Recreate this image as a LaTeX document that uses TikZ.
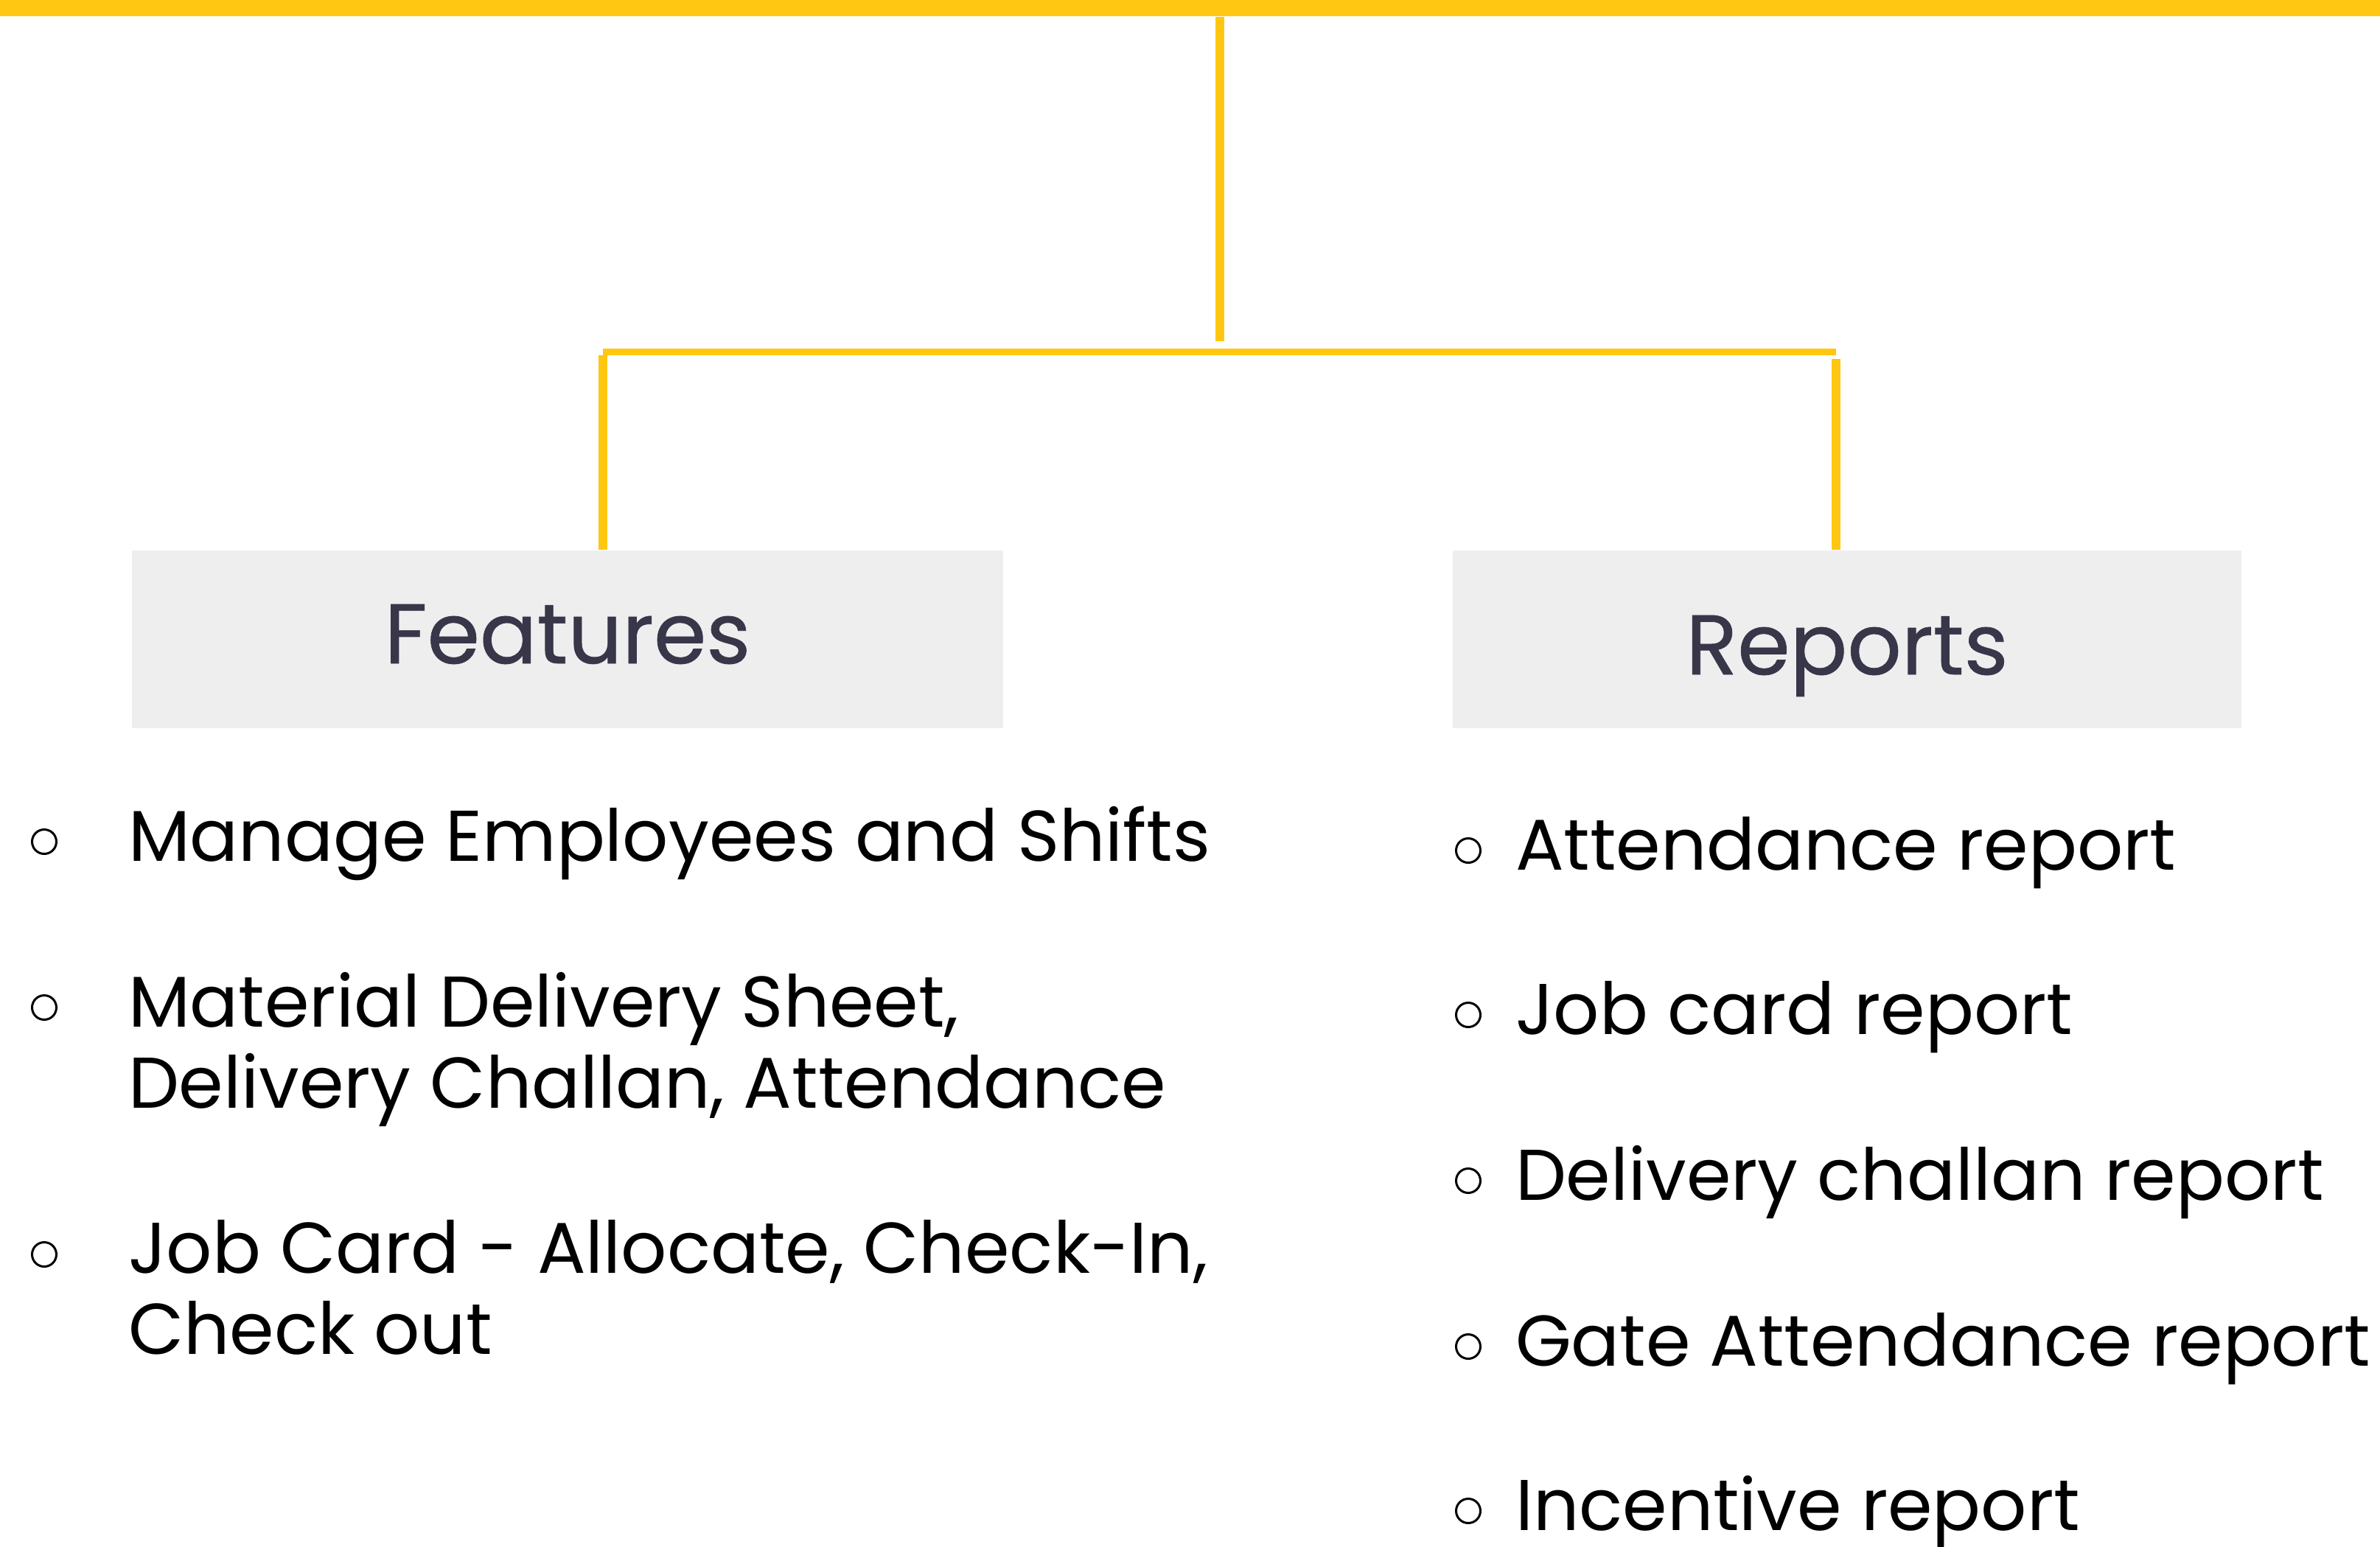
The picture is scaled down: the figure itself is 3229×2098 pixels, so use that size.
\documentclass[tikz,border=0pt]{standalone}
\usepackage{fontspec}
\setmainfont{Poppins}
\newfontfamily\headfont{Poppins}[FakeBold=0.6]
\usetikzlibrary{positioning}
\definecolor{barYellow}{HTML}{FFC711}
\definecolor{boxGray}{HTML}{EEEEEE}
\definecolor{headInk}{HTML}{383649}
\tikzset{
  topbar/.style={fill=barYellow, inner sep=0pt, minimum width=645.8pt, minimum height=4.4pt},
  link/.style={barYellow, line width=2.4pt},
  crossbar/.style={barYellow, line width=1.8pt},
  headbox/.style={fill=boxGray, inner sep=0pt, text=headInk, minimum height=48.2pt, text depth=0pt, font=\headfont\fontsize{23}{27}\selectfont},
  item/.style={anchor=base west, inner sep=0pt, align=left, font=\fontsize{19.5}{22}\selectfont},
  dot/.style={circle, draw, line width=0.6pt, minimum size=6.6pt, inner sep=0pt}
}
\begin{document}
\begin{tikzpicture}[x=0.2pt, y=-0.2pt]
\useasboundingbox (0,0) rectangle (3229,2098);
% yellow band and tree lines
\node [topbar] (band) at (1614.5,11) {};
\coordinate (trunkend) at (1655,463);
\draw [link] (band.south -| trunkend) -- (trunkend);
\coordinate (armleft) at (818,477.5);
\coordinate (armright) at (2491,477.5);
\draw [crossbar] (armleft) -- (armright);
% headings
\node [headbox, minimum width=236.4pt, text height=13pt] (features) at (770,867.5) {Features};
\node [headbox, minimum width=214pt, text height=19pt] (reports) at (2506,867.5) {Reports};
\draw [link] ([yshift=-0.9pt]armleft) -- (features.north -| armleft);
\draw [link] ([yshift=-1.9pt]armright) -- (reports.north -| armright);
% features list (two-line items sit on their last baseline)
\node [item] (mgmt) at (173,1168) {Manage Employees and Shifts};
\node [dot] (mgmtdot) at (60,1142) {};
\node [item] (sheet) at (173,1503) {Material Delivery Sheet,\\Delivery Challan, Attendance};
\node [dot] (sheetdot) at (60,1367) {};
\node [item] (jobcard) at (173,1837) {Job Card - Allocate, Check-In,\\Check out};
\node [dot] (jobcarddot) at (60,1702) {};
% reports list
\node [item] (attrep) at (2055,1180) {Attendance report};
\node [dot] (attrepdot) at (1992,1154) {};
\node [item] (jobrep) at (2055,1403) {Job card report};
\node [dot] (jobrepdot) at (1992,1377) {};
\node [item] (dcrep) at (2055,1628) {Delivery challan report};
\node [dot] (dcrepdot) at (1992,1602) {};
\node [item] (gaterep) at (2055,1853) {Gate Attendance report};
\node [dot] (gaterepdot) at (1992,1827) {};
\node [item] (increp) at (2055,2076) {Incentive report};
\node [dot] (increpdot) at (1992,2050) {};
\end{tikzpicture}
\end{document}
